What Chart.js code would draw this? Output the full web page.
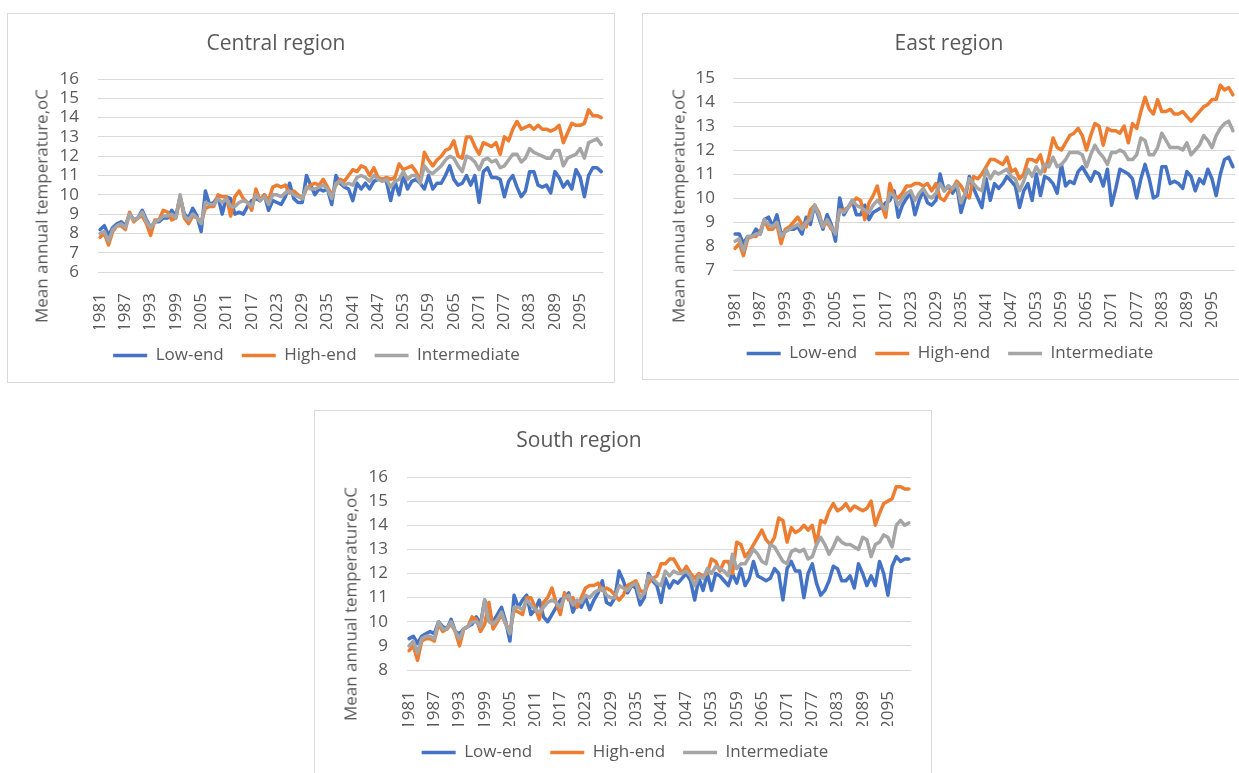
<!DOCTYPE html>
<html lang="en">
<head>
<meta charset="UTF-8">
<title>Mean annual temperature by region</title>
<script src="https://cdn.jsdelivr.net/npm/chart.js"></script>
<style>
    body { margin: 0; width: 1239px; height: 773px; overflow: hidden; position: relative; background: #fff; font-family: "Open Sans", sans-serif; }
    .panel { position: absolute; border: 1px solid #d9d9d9; background: #fff; }
    .panel canvas { position: absolute; left: 0; top: 0; }
    .ttl { position: absolute; transform: translate(-50%, -50%); font-size: 21px; color: #595959; white-space: nowrap; }
    .ytl { position: absolute; transform: translate(-50%, -50%) rotate(-90deg); font-size: 17px; color: #595959; white-space: nowrap; }
</style>
</head>
<body>
    <div class="panel" style="left:7px;top:13px;width:606px;height:368px"><canvas id="central" width="606" height="368"></canvas></div>
    <div class="panel" style="left:642px;top:13px;width:613px;height:365px"><canvas id="east" width="613" height="365"></canvas></div>
    <div class="panel" style="left:314px;top:410px;width:616px;height:368px"><canvas id="south" width="616" height="368"></canvas></div>
    <div class="ttl" style="left:276px;top:42px">Central region</div>
    <div class="ttl" style="left:949px;top:42px">East region</div>
    <div class="ttl" style="left:579px;top:439px">South region</div>
    <div class="ytl" style="left:41px;top:206px">Mean annual temperature,oC</div>
    <div class="ytl" style="left:678px;top:206px">Mean annual temperature,oC</div>
    <div class="ytl" style="left:350px;top:604px">Mean annual temperature,oC</div>
<script>
    // years 1981-2100
    const years = [];
    for (let y = 1981; y <= 2100; y++) years.push(String(y));

    const centralLow = [8.2, 8.4, 7.9, 8.3, 8.5, 8.6, 8.4, 9.0, 8.7, 8.8,
        9.2, 8.7, 8.3, 8.6, 8.6, 8.8, 8.8, 9.2, 8.9, 9.9,
        9.0, 8.8, 9.3, 8.9, 8.1, 10.2, 9.5, 9.6, 9.9, 9.0,
        9.9, 9.8, 9.0, 9.1, 9.0, 9.4, 9.7, 9.8, 9.7, 10.0,
        9.2, 9.7, 9.6, 9.5, 9.9, 10.6, 9.8, 9.6, 9.6, 11.0,
        10.5, 10.0, 10.3, 10.2, 10.3, 9.5, 11.0, 10.6, 10.4, 10.3,
        9.7, 10.6, 10.3, 10.6, 10.3, 10.7, 10.8, 10.8, 10.7, 9.7,
        10.7, 10.0, 11.0, 10.3, 10.7, 10.8, 10.6, 10.3, 11.0, 10.3,
        10.6, 10.6, 11.0, 11.5, 10.8, 10.5, 10.6, 11.0, 10.5, 11.0,
        9.6, 11.2, 11.4, 10.9, 10.9, 10.8, 9.9, 10.7, 11.0, 10.4,
        9.9, 10.2, 11.2, 11.2, 10.5, 10.4, 10.5, 10.1, 11.2, 10.9,
        10.4, 10.7, 10.3, 11.3, 10.9, 9.9, 11.0, 11.4, 11.4, 11.2];
    const centralHigh = [7.8, 8.0, 7.4, 8.1, 8.4, 8.4, 8.2, 9.1, 8.6, 8.8,
        8.9, 8.5, 7.9, 8.7, 8.7, 9.2, 9.1, 8.7, 8.8, 9.9,
        8.8, 8.5, 8.9, 8.8, 8.6, 9.3, 9.4, 9.4, 10.0, 9.9,
        9.9, 8.9, 9.9, 10.2, 9.8, 9.6, 9.2, 10.3, 9.7, 10.0,
        9.7, 10.4, 10.5, 10.4, 10.5, 10.1, 10.2, 10.0, 9.8, 10.3,
        10.5, 10.6, 10.5, 10.8, 10.4, 10.0, 10.5, 10.8, 10.7, 11.0,
        11.3, 11.2, 11.5, 11.4, 11.0, 11.4, 10.9, 10.8, 10.9, 10.8,
        10.9, 11.6, 11.3, 11.4, 11.5, 11.2, 10.7, 12.2, 11.8, 11.5,
        11.8, 12.0, 12.3, 12.4, 12.8, 12.0, 11.9, 13.0, 13.0, 12.5,
        12.1, 12.7, 12.6, 12.5, 12.7, 12.1, 13.0, 12.8, 13.4, 13.8,
        13.4, 13.5, 13.6, 13.4, 13.6, 13.4, 13.4, 13.3, 13.4, 13.6,
        12.7, 13.2, 13.7, 13.6, 13.6, 13.7, 14.4, 14.1, 14.1, 14.0];
    const centralMid = [8.0, 8.1, 7.6, 8.2, 8.4, 8.5, 8.3, 9.0, 8.7, 8.8,
        9.1, 8.6, 8.3, 8.6, 8.7, 8.9, 8.9, 9.0, 8.8, 10.0,
        8.9, 8.7, 9.0, 8.8, 8.5, 9.6, 9.5, 9.5, 9.8, 9.6,
        9.8, 9.4, 9.4, 9.6, 9.7, 9.6, 9.4, 10.0, 9.7, 9.9,
        9.5, 10.0, 10.0, 9.9, 10.1, 10.2, 10.0, 9.9, 9.8, 10.4,
        10.3, 10.3, 10.4, 10.5, 10.3, 9.8, 10.6, 10.7, 10.5, 10.6,
        10.5, 10.9, 11.0, 10.9, 10.7, 11.0, 10.8, 10.7, 10.8, 10.4,
        10.7, 10.8, 11.2, 10.8, 11.0, 11.0, 10.6, 11.5, 11.2, 11.1,
        11.3, 11.5, 11.8, 12.0, 11.9, 11.5, 11.2, 12.0, 11.9, 11.7,
        11.3, 11.8, 11.9, 11.7, 11.8, 11.4, 11.5, 11.8, 12.1, 12.1,
        11.7, 11.9, 12.4, 12.2, 12.1, 12.0, 11.9, 11.9, 12.3, 12.3,
        11.5, 11.9, 12.0, 12.1, 12.4, 11.9, 12.7, 12.8, 12.9, 12.6];

    const eastLow = [8.5, 8.5, 8.1, 8.4, 8.4, 8.7, 8.5, 9.1, 9.2, 8.8,
        9.3, 8.5, 8.6, 8.7, 8.7, 8.8, 8.5, 9.2, 8.9, 9.7,
        9.2, 8.7, 9.3, 8.9, 8.2, 10.0, 9.3, 9.6, 9.9, 9.3,
        9.3, 9.7, 9.1, 9.4, 9.5, 9.6, 9.8, 9.9, 10.3, 9.2,
        9.7, 10.0, 10.2, 9.3, 9.9, 10.3, 9.8, 9.7, 9.9, 11.0,
        10.3, 10.5, 10.2, 10.5, 9.4, 10.0, 10.9, 10.4, 10.0, 9.6,
        10.8, 9.9, 10.6, 10.4, 10.6, 10.9, 10.7, 10.5, 9.6, 10.3,
        10.6, 9.9, 11.0, 10.1, 10.9, 10.8, 10.6, 10.2, 11.4, 10.5,
        10.7, 10.6, 11.1, 11.3, 11.0, 10.7, 11.1, 11.0, 10.5, 11.2,
        9.7, 10.4, 11.2, 11.1, 11.0, 10.8, 10.0, 10.8, 11.4, 10.8,
        10.0, 10.1, 11.3, 11.3, 10.6, 10.7, 10.6, 10.4, 11.1, 10.9,
        10.3, 10.8, 10.6, 11.2, 10.8, 10.1, 11.0, 11.6, 11.7, 11.3];
    const eastHigh = [7.9, 8.1, 7.6, 8.3, 8.4, 8.4, 8.6, 9.1, 8.7, 8.7,
        8.9, 8.1, 8.7, 8.8, 9.0, 9.2, 8.9, 8.8, 9.5, 9.7,
        9.4, 8.8, 9.0, 8.7, 8.6, 9.5, 9.5, 9.6, 9.8, 10.0,
        9.9, 9.1, 9.8, 10.1, 10.5, 9.7, 9.2, 10.6, 10.1, 10.0,
        10.2, 10.5, 10.5, 10.6, 10.6, 10.5, 10.6, 10.3, 10.6, 10.0,
        9.9, 10.2, 10.4, 10.7, 10.5, 10.2, 10.0, 10.9, 10.8, 11.0,
        11.3, 11.6, 11.6, 11.5, 11.4, 11.7, 11.1, 11.2, 10.8, 11.0,
        11.6, 11.6, 11.5, 11.8, 11.1, 11.7, 12.5, 12.1, 12.0, 12.3,
        12.6, 12.7, 12.9, 12.6, 12.0, 12.6, 13.1, 13.0, 12.2, 12.9,
        12.8, 12.8, 12.7, 13.0, 12.3, 13.1, 12.9, 13.6, 14.2, 13.7,
        13.5, 14.1, 13.6, 13.6, 13.7, 13.5, 13.5, 13.6, 13.4, 13.2,
        13.4, 13.6, 13.8, 13.9, 14.1, 14.1, 14.7, 14.5, 14.6, 14.3];
    const eastMid = [8.2, 8.3, 7.8, 8.4, 8.4, 8.5, 8.5, 9.1, 8.9, 8.8,
        9.0, 8.4, 8.6, 8.7, 8.8, 8.9, 8.7, 9.0, 9.1, 9.7,
        9.3, 8.8, 9.1, 8.8, 8.5, 9.5, 9.4, 9.6, 9.9, 9.7,
        9.6, 9.5, 9.4, 9.7, 9.9, 9.7, 9.5, 10.2, 10.1, 9.7,
        10.0, 10.2, 10.3, 9.9, 10.2, 10.4, 10.1, 10.0, 10.2, 10.6,
        10.3, 10.5, 10.4, 10.6, 9.8, 10.2, 10.8, 10.6, 10.4, 10.3,
        11.2, 10.8, 11.1, 11.0, 11.1, 11.2, 10.9, 10.8, 10.3, 10.7,
        11.2, 10.9, 11.3, 11.0, 11.4, 11.3, 11.7, 11.3, 11.4, 11.6,
        11.9, 11.9, 11.9, 11.8, 11.3, 11.8, 12.2, 11.9, 11.7, 11.4,
        11.9, 11.9, 12.0, 11.9, 11.6, 11.6, 11.8, 12.5, 12.4, 11.8,
        11.8, 12.1, 12.7, 12.4, 12.1, 12.1, 12.1, 12.0, 12.3, 11.8,
        12.0, 12.2, 12.6, 12.4, 12.1, 12.6, 12.9, 13.1, 13.2, 12.8];

    const southLow = [9.3, 9.4, 9.1, 9.4, 9.5, 9.6, 9.5, 10.0, 9.8, 9.7,
        10.1, 9.6, 9.5, 9.7, 9.8, 9.9, 10.2, 9.9, 10.9, 10.2,
        10.0, 10.3, 10.6, 10.0, 9.2, 11.1, 10.6, 10.9, 11.1, 10.3,
        10.5, 10.9, 10.2, 10.0, 10.3, 10.6, 10.9, 11.0, 11.2, 10.4,
        10.8, 10.6, 11.0, 10.5, 10.9, 11.2, 11.7, 10.8, 10.7, 11.0,
        12.1, 11.7, 11.2, 11.5, 11.4, 10.7, 11.0, 12.0, 11.7, 11.5,
        10.8, 11.8, 11.4, 11.7, 11.6, 11.8, 12.0, 11.7, 10.9, 11.8,
        11.3, 12.0, 11.3, 12.0, 11.9, 11.7, 11.5, 12.0, 11.6, 12.2,
        11.5, 11.8, 12.5, 11.9, 11.8, 11.7, 11.8, 12.2, 12.0, 10.9,
        12.2, 12.5, 12.1, 12.1, 11.0, 12.0, 12.4, 11.6, 11.1, 11.3,
        11.7, 12.3, 12.2, 11.7, 11.7, 11.9, 11.4, 12.4, 12.0, 11.5,
        11.9, 11.5, 12.5, 12.0, 11.1, 12.3, 12.7, 12.5, 12.6, 12.6];
    const southHigh = [8.8, 9.0, 8.4, 9.2, 9.3, 9.3, 9.2, 9.9, 9.6, 9.7,
        9.9, 9.6, 9.0, 9.7, 9.8, 10.2, 10.1, 9.6, 9.9, 10.8,
        9.7, 10.0, 10.3, 9.9, 9.6, 10.5, 10.4, 10.3, 11.0, 11.0,
        10.6, 10.1, 10.8, 11.0, 11.4, 10.8, 10.3, 11.2, 10.9, 11.0,
        10.6, 11.0, 11.4, 11.5, 11.5, 11.6, 11.3, 11.4, 11.3, 11.1,
        10.9, 11.1, 11.5, 11.6, 11.7, 11.3, 11.2, 11.6, 11.8, 11.9,
        12.4, 12.4, 12.6, 12.6, 12.3, 12.0, 12.3, 12.0, 11.8, 12.0,
        11.9, 12.0, 12.6, 12.5, 12.1, 12.5, 12.5, 12.0, 13.3, 13.2,
        12.7, 12.9, 13.2, 13.5, 13.8, 13.4, 13.2, 13.5, 14.3, 14.2,
        13.3, 13.9, 13.7, 13.8, 14.0, 13.8, 14.0, 13.2, 14.2, 14.1,
        14.6, 14.9, 14.6, 14.7, 14.9, 14.6, 14.8, 14.7, 14.6, 14.7,
        15.0, 14.0, 14.5, 14.9, 15.0, 15.1, 15.6, 15.6, 15.5, 15.5];
    const southMid = [9.0, 9.2, 8.7, 9.3, 9.4, 9.4, 9.3, 10.0, 9.7, 9.7,
        10.0, 9.6, 9.3, 9.7, 9.8, 10.0, 10.0, 9.8, 10.9, 10.0,
        9.9, 10.1, 10.4, 9.9, 9.5, 10.6, 10.6, 10.5, 10.9, 10.7,
        10.5, 10.4, 10.6, 10.8, 10.9, 10.8, 10.6, 11.0, 11.1, 10.7,
        10.9, 10.8, 11.1, 11.0, 11.2, 11.3, 11.4, 11.1, 11.0, 11.0,
        11.5, 11.4, 11.3, 11.5, 11.6, 11.0, 11.2, 11.9, 11.8, 11.6,
        11.5, 12.1, 11.9, 12.1, 12.0, 12.0, 12.1, 11.9, 11.5, 11.9,
        11.8, 12.2, 12.0, 12.3, 12.2, 12.1, 11.9, 12.8, 12.2, 12.4,
        12.4, 12.7, 13.0, 12.8, 12.5, 12.4, 13.2, 13.1, 12.8, 12.5,
        12.4, 12.9, 13.0, 12.9, 13.0, 12.6, 12.7, 13.2, 13.5, 13.2,
        12.8, 13.1, 13.5, 13.3, 13.2, 13.2, 13.1, 13.0, 13.5, 13.4,
        12.7, 13.2, 13.3, 13.6, 13.5, 13.1, 14.0, 14.2, 14.0, 14.1];

    const textColor = '#595959';
    const fontFamily = '"Open Sans", sans-serif';

    function drawRegion(id, low, high, mid, yMin, yMax, lay) {
        new Chart(document.getElementById(id), {
            type: 'line',
            data: {
                labels: years,
                datasets: [
                    { label: 'Low-end', data: low, borderColor: '#4472c4', backgroundColor: '#4472c4', order: 3 },
                    { label: 'High-end', data: high, borderColor: '#ed7d31', backgroundColor: '#ed7d31', order: 2 },
                    { label: 'Intermediate', data: mid, borderColor: '#a5a5a5', backgroundColor: '#a5a5a5', order: 1 }
                ]
            },
            options: {
                responsive: false,
                animation: false,
                events: [],
                datasets: {
                    line: { borderWidth: 3.5, pointRadius: 0, tension: 0, borderJoinStyle: 'round', borderCapStyle: 'round', fill: false }
                },
                layout: { padding: { left: lay.padL, right: lay.padR, top: lay.padT, bottom: lay.padB } },
                plugins: {
                    tooltip: { enabled: false },
                    legend: {
                        position: 'bottom',
                        labels: {
                            usePointStyle: true,
                            pointStyle: 'line',
                            pointStyleWidth: 34,
                            padding: 18,
                            color: textColor,
                            font: { family: fontFamily, size: 17 },
                            sort: (a, b) => a.datasetIndex - b.datasetIndex
                        }
                    }
                },
                scales: {
                    x: {
                        offset: true,
                        grid: { display: false },
                        border: { display: false },
                        afterFit: s => { s.height = lay.xH; },
                        ticks: {
                            autoSkip: false,
                            minRotation: 90,
                            maxRotation: 90,
                            padding: lay.xPad,
                            color: textColor,
                            font: { family: fontFamily, size: 17 },
                            callback: function (v, i) { return i % 6 === 0 ? this.getLabelForValue(v) : null; }
                        }
                    },
                    y: {
                        min: yMin,
                        max: yMax,
                        border: { display: false },
                        grid: { color: '#d9d9d9', lineWidth: 1, drawTicks: false },
                        afterFit: s => { s.width = lay.yW; },
                        ticks: { stepSize: 1, autoSkip: false, padding: lay.yPad, color: textColor, font: { family: fontFamily, size: 17 } }
                    }
                }
            }
        });
    }

    drawRegion('central', centralLow, centralHigh, centralMid, 6, 16,
        { padL: 20, padR: 9, padT: 65, padB: 8, yW: 70, xH: 57, xPad: 13, yPad: 19 });
    drawRegion('east', eastLow, eastHigh, eastMid, 7, 15,
        { padL: 22, padR: 21, padT: 64, padB: 7, yW: 68, xH: 57, xPad: 13, yPad: 18 });
    drawRegion('south', southLow, southHigh, southMid, 8, 16,
        { padL: 24, padR: 20, padT: 66, padB: 8, yW: 68, xH: 56, xPad: 13, yPad: 19 });
</script>
</body>
</html>
